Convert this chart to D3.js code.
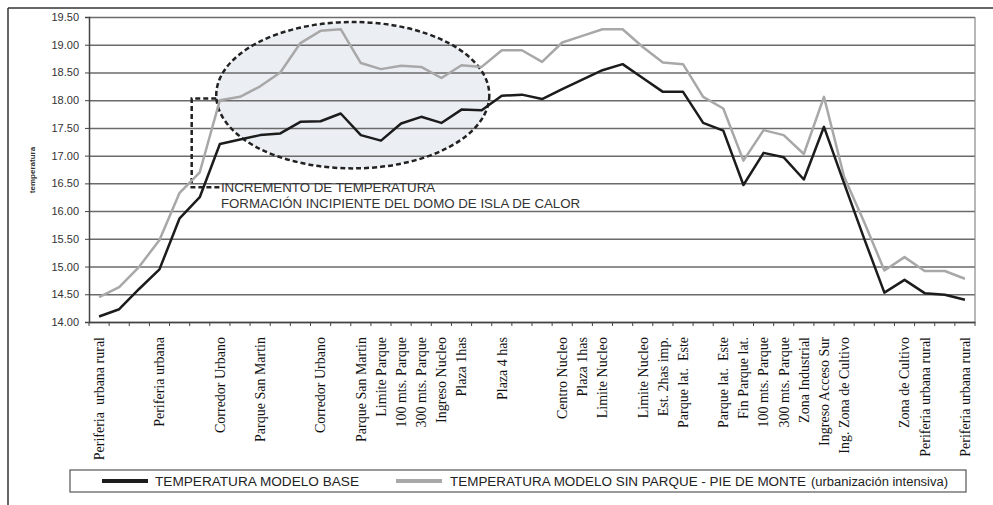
<!DOCTYPE html>
<html>
<head>
<meta charset="utf-8">
<script src="https://cdn.jsdelivr.net/npm/d3@7"></script>
<style>
body { margin: 0; background: #fff; }
</style>
</head>
<body>
<svg></svg>
<script>
// datos
var categorias = ["Periferia  urbana rural", "", "", "Periferia urbana", "", "", "Corredor Urbano", "",
  "Parque San Martin", "", "", "Corredor Urbano", "", "Parque San Martin", "Limite Parque",
  "100 mts. Parque", "300 mts. Parque", "Ingreso Nucleo", "Plaza 1has", "", "Plaza 4 has", "", "",
  "Centro Nucleo", "Plaza 1has", "Limite Nucleo", "", "Limite Nucleo", "Est. 2has imp.",
  "Parque lat.  Este", "", "Parque lat.  Este", "Fin Parque lat.", "100 mts. Parque",
  "300 mts. Parque", "Zona Industrial", "Ingreso Acceso Sur", "Ing. Zona de Cultivo", "", "",
  "Zona de Cultivo", "Periferia urbana rural", "", "Periferia urbana rural"];

var modeloBase = [14.10, 14.23, 14.60, 14.95, 15.87, 16.25, 17.21, 17.29, 17.37, 17.40,
  17.61, 17.62, 17.76, 17.37, 17.27, 17.58, 17.70, 17.59, 17.83, 17.82,
  18.08, 18.10, 18.02, 18.20, 18.37, 18.54, 18.65, 18.40, 18.15, 18.15,
  17.59, 17.45, 16.47, 17.05, 16.97, 16.57, 17.52, 16.50, 15.50, 14.53,
  14.76, 14.52, 14.49, 14.40];

var sinParque = [14.45, 14.63, 15.00, 15.48, 16.33, 16.70, 18.00, 18.06, 18.25, 18.50,
  19.03, 19.25, 19.28, 18.67, 18.56, 18.62, 18.60, 18.40, 18.63, 18.60,
  18.90, 18.90, 18.69, 19.04, 19.16, 19.28, 19.28, 18.96, 18.68, 18.65,
  18.06, 17.85, 16.91, 17.46, 17.37, 17.03, 18.06, 16.62, 15.80, 14.93,
  15.17, 14.92, 14.92, 14.78];

var yTicks = [14.0, 14.5, 15.0, 15.5, 16.0, 16.5, 17.0, 17.5, 18.0, 18.5, 19.0, 19.5];

var svg = d3.select('svg')
  .attr('width', 993)
  .attr('height', 505);

// escalas
var x = d3.scaleBand()
  .domain(d3.range(categorias.length))
  .range([89, 975])
  .padding(0);
var y = d3.scaleLinear()
  .domain([14, 19.5])
  .range([322, 17]);

// posicion (fraccional) de una categoria
var px = function(i) { return x.range()[0] + x.step() * (i + 0.5); };

// marco exterior
svg.append('line').attr('x1', 8).attr('x2', 993).attr('y1', 8).attr('y2', 8)
  .attr('stroke', '#333').attr('stroke-width', 1.5);
svg.append('line').attr('x1', 8).attr('x2', 8).attr('y1', 8).attr('y2', 505)
  .attr('stroke', '#333').attr('stroke-width', 1.5);

// elipse (relleno)
var elipse = { cx: 12.6, cy: 18.09, rx: 6.78, ry: 1.32 };
svg.append('ellipse')
  .attr('cx', px(elipse.cx))
  .attr('cy', y(elipse.cy))
  .attr('rx', x.step() * elipse.rx)
  .attr('ry', y(19.5 - elipse.ry) - y(19.5))
  .attr('fill', '#ebeff4');

// lineas de division
svg.append('g')
  .attr('transform', 'translate(' + x.range()[0] + ',0)')
  .call(d3.axisLeft(y).tickValues(yTicks).tickSize(-(x.range()[1] - x.range()[0])).tickFormat(''))
  .call(function(g) {
    g.select('.domain').remove();
    g.selectAll('line').attr('stroke', '#6b6b6b').attr('stroke-width', 1.5);
  });

// borde derecho
svg.append('line')
  .attr('x1', x.range()[1]).attr('x2', x.range()[1])
  .attr('y1', y(19.5)).attr('y2', y(14))
  .attr('stroke', '#888').attr('stroke-width', 1.2);

// elipse (borde punteado)
svg.append('ellipse')
  .attr('cx', px(elipse.cx))
  .attr('cy', y(elipse.cy))
  .attr('rx', x.step() * elipse.rx)
  .attr('ry', y(19.5 - elipse.ry) - y(19.5))
  .attr('fill', 'none')
  .attr('stroke', '#222')
  .attr('stroke-width', 2.5)
  .attr('stroke-dasharray', '5,3');

// eje Y
svg.append('g')
  .attr('transform', 'translate(' + x.range()[0] + ',0)')
  .call(d3.axisLeft(y).tickValues(yTicks).tickSize(4).tickPadding(6).tickFormat(d3.format('.2f')))
  .call(function(g) {
    g.select('.domain').attr('stroke', '#444').attr('stroke-width', 1.5);
    g.selectAll('line').attr('stroke', '#444');
    g.selectAll('text')
      .attr('fill', '#333')
      .style('font-family', 'Liberation Sans, Arial, sans-serif')
      .style('font-size', '11px');
  });

// eje X
svg.append('g')
  .attr('transform', 'translate(0,' + y(14) + ')')
  .call(d3.axisBottom(x).tickSize(0).tickPadding(0).tickFormat(function(i) { return categorias[i]; }))
  .call(function(g) {
    g.select('.domain').attr('stroke', '#444').attr('stroke-width', 1.5);
    g.selectAll('text')
      .attr('transform', 'rotate(-90)')
      .attr('x', -15)
      .attr('y', 0)
      .attr('dy', '0.35em')
      .style('text-anchor', 'end')
      .attr('fill', '#111')
      .style('white-space', 'pre')
      .style('font-family', 'Liberation Serif, Times New Roman, serif')
      .style('font-size', '14px');
  });

// marcas entre categorias
svg.append('g')
  .selectAll('line')
  .data(d3.range(categorias.length + 1))
  .enter()
  .append('line')
  .attr('x1', function(i) { return x.range()[0] + x.step() * i; })
  .attr('x2', function(i) { return x.range()[0] + x.step() * i; })
  .attr('y1', y(14))
  .attr('y2', y(14) + 4)
  .attr('stroke', '#444');

// titulo eje Y
svg.append('text')
  .attr('transform', 'translate(35,170) rotate(-90)')
  .style('text-anchor', 'middle')
  .style('font-family', 'Liberation Sans, Arial, sans-serif')
  .style('font-size', '8px')
  .style('font-weight', 'bold')
  .attr('fill', '#333')
  .text('temperatura');

// corchete punteado
var corchete = { x0: 4.6, x1: 5.82, x2: 6.0, yTop: 18.03, yBot: 16.43 };
svg.append('path')
  .attr('d', 'M' + px(corchete.x1) + ',' + y(corchete.yTop) +
             'H' + px(corchete.x0) +
             'V' + y(corchete.yBot) +
             'H' + px(corchete.x2))
  .attr('fill', 'none')
  .attr('stroke', '#222')
  .attr('stroke-width', 2.5)
  .attr('stroke-dasharray', '5,3');

// lineas de datos
var linea = d3.line()
  .x(function(d, i) { return px(i); })
  .y(function(d) { return y(d); });

svg.append('path')
  .datum(sinParque)
  .attr('d', linea)
  .attr('fill', 'none')
  .attr('stroke', '#a8a8a8')
  .attr('stroke-width', 2.5)
  .attr('stroke-linejoin', 'round');

svg.append('path')
  .datum(modeloBase)
  .attr('d', linea)
  .attr('fill', 'none')
  .attr('stroke', '#1c1c1c')
  .attr('stroke-width', 2.5)
  .attr('stroke-linejoin', 'round');

// texto de la anotacion
svg.append('text')
  .attr('x', px(corchete.x2) + 1)
  .attr('y', y(corchete.yBot) + 5)
  .style('font-family', 'Liberation Sans, Arial, sans-serif')
  .style('font-size', '13.3px')
  .attr('fill', '#333')
  .text('INCREMENTO DE TEMPERATURA');
svg.append('text')
  .attr('x', px(corchete.x2) + 1)
  .attr('y', y(corchete.yBot) + 21)
  .style('font-family', 'Liberation Sans, Arial, sans-serif')
  .style('font-size', '13.3px')
  .attr('fill', '#333')
  .text('FORMACIÓN INCIPIENTE DEL DOMO DE ISLA DE CALOR');

// leyenda
svg.append('rect')
  .attr('x', 70).attr('y', 470)
  .attr('width', 896).attr('height', 22)
  .attr('fill', '#fff')
  .attr('stroke', '#555')
  .attr('stroke-width', 1.2);

svg.append('line')
  .attr('x1', 102).attr('x2', 148).attr('y1', 481).attr('y2', 481)
  .attr('stroke', '#1c1c1c').attr('stroke-width', 4);
svg.append('text')
  .attr('x', 155).attr('y', 485.5)
  .attr('textLength', 204)
  .attr('lengthAdjust', 'spacingAndGlyphs')
  .style('font-family', 'Liberation Sans, Arial, sans-serif')
  .style('font-size', '12.5px')
  .attr('fill', '#222')
  .text('TEMPERATURA MODELO BASE');

svg.append('line')
  .attr('x1', 396).attr('x2', 442).attr('y1', 481).attr('y2', 481)
  .attr('stroke', '#a8a8a8').attr('stroke-width', 4);
svg.append('text')
  .attr('x', 450).attr('y', 485.5)
  .attr('textLength', 356)
  .attr('lengthAdjust', 'spacingAndGlyphs')
  .style('font-family', 'Liberation Sans, Arial, sans-serif')
  .style('font-size', '12.5px')
  .attr('fill', '#222')
  .text('TEMPERATURA MODELO SIN PARQUE - PIE DE MONTE');
svg.append('text')
  .attr('x', 811).attr('y', 485.5)
  .attr('textLength', 137)
  .attr('lengthAdjust', 'spacingAndGlyphs')
  .style('font-family', 'Liberation Sans, Arial, sans-serif')
  .style('font-size', '12px')
  .attr('fill', '#222')
  .text('(urbanización intensiva)');
</script>
</body>
</html>
